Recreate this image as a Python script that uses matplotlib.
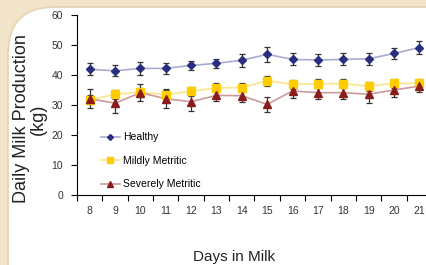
import numpy as np
import matplotlib.pyplot as plt
from matplotlib.patches import FancyBboxPatch

plt.rcParams['font.family'] = ['Liberation Sans', 'DejaVu Sans']

# data
days = ['8', '9', '10', '11', '12', '13', '14', '15', '16', '17', '18', '19', '20', '21']
healthy = [41.9, 41.4, 42.2, 42.2, 43.2, 43.9, 44.9, 46.9, 45.2, 45.0, 45.2, 45.4, 47.2, 49.1]
healthy_err = [2.0, 1.8, 2.2, 1.8, 1.6, 1.6, 2.2, 2.6, 2.0, 2.0, 2.0, 2.0, 1.8, 2.2]
mildly = [31.7, 33.6, 34.3, 33.4, 34.6, 35.7, 35.8, 38.1, 36.9, 37.1, 37.1, 36.3, 37.2, 37.2]
mildly_err = [1.5, 1.5, 1.5, 1.5, 1.5, 1.5, 1.5, 1.6, 1.5, 1.5, 1.5, 1.5, 1.5, 1.5]
severely = [32.1, 30.6, 34.1, 32.1, 31.1, 33.2, 33.1, 30.2, 34.7, 34.1, 34.1, 33.6, 35.0, 36.3]
severely_err = [3.2, 3.4, 2.8, 3.2, 3.0, 2.0, 2.2, 2.6, 2.2, 2.2, 2.0, 3.0, 2.2, 1.8]

fig = plt.figure(figsize=(4.27, 2.65), dpi=100)
fig.patch.set_facecolor('#f2e4c8')

# white rounded panel behind the chart
panel = FancyBboxPatch((8 / 427, -0.2), 1.2, 1 - 7 / 265 + 0.2,
                       boxstyle='round,pad=0,rounding_size=0.11',
                       transform=fig.transFigure, facecolor='white',
                       edgecolor='#e6d3b0', linewidth=1.2, zorder=-5,
                       mutation_aspect=427 / 265)
fig.patches.append(panel)

ax = fig.add_axes([77 / 427, 1 - 195 / 265, 355 / 427, 180 / 265])
ax.set_zorder(2)
ax.patch.set_alpha(0)
x = np.arange(len(days))

series = [
    (healthy, healthy_err, 'Healthy', '#2a2e80', '#a9abd0', 'D', 4.5),
    (mildly, mildly_err, 'Mildly Metritic', '#ffcc00', '#fbe58a', 's', 5.5),
    (severely, severely_err, 'Severely Metritic', '#8a1c1c', '#cc9a9a', '^', 6),
]
for vals, err, label, mc, lc, mk, ms in series:
    ax.errorbar(x, vals, yerr=err, fmt='none', ecolor='#333333', elinewidth=0.9,
                capsize=2, capthick=0.9, zorder=2)
    ax.plot(x, vals, color=lc, linewidth=1.2, zorder=3)
    ax.plot(x, vals, linestyle='none', marker=mk, markersize=ms, color=mc,
            markeredgecolor=mc, zorder=4)
    # legend proxy
    ax.plot([], [], color=lc, linewidth=1.2, marker=mk, markersize=ms - 1.5,
            markerfacecolor=mc, markeredgecolor=mc, label=label)

ax.set_ylim(0, 60)
ax.set_xlim(-0.5, 13.5)
ax.set_yticks(range(0, 61, 10))
ax.set_xticks(np.arange(-0.5, 14, 1))
ax.set_xticklabels([])
ax.set_xticks(x, minor=True)
ax.set_xticklabels(days, minor=True)
ax.tick_params(axis='x', which='major', length=4, width=0.8, direction='out')
ax.tick_params(axis='x', which='minor', length=0, pad=8, labelsize=7.5, labelcolor='#333333')
ax.tick_params(axis='y', length=4, width=0.8, labelsize=7.5, labelcolor='#333333', pad=6)
for s in ['top', 'right']:
    ax.spines[s].set_visible(False)
for s in ['left', 'bottom']:
    ax.spines[s].set_linewidth(0.8)

ax.legend(loc='upper left', bbox_to_anchor=(0.04, 0.40), frameon=False,
          fontsize=7.5, labelspacing=1.3, handlelength=1.9, handletextpad=0.3)

fig.text(30 / 427, 1 - 119 / 265, 'Daily Milk Production\n(kg)', rotation=90,
         ha='center', va='center', fontsize=13, color='#222222', linespacing=1.0)
fig.text(234 / 427, 1 - 257 / 265, 'Days in Milk', ha='center', va='center',
         fontsize=11, color='#222222')

fig.savefig('out.png', dpi=100, facecolor=fig.get_facecolor())
